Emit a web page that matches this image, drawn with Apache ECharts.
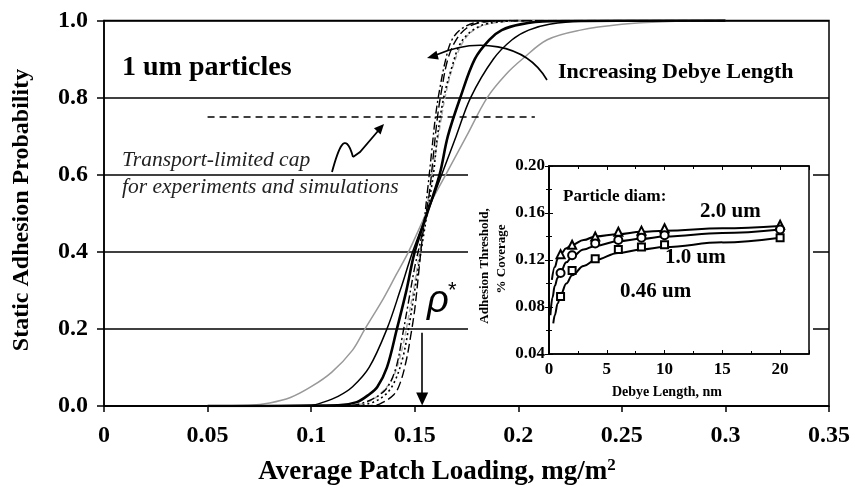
<!DOCTYPE html>
<html>
<head>
<meta charset="utf-8">
<script src="https://cdn.jsdelivr.net/npm/echarts@6/dist/echarts.min.js"></script>
<style>
html, body { margin: 0; padding: 0; background: #fff; }
#chart { width: 855px; height: 489px; }
</style>
</head>
<body>
<div id="chart"></div>
<script>
// Static adhesion probability vs. average patch loading, 1 um particles,
// one curve per Debye length (values as [loading mg/m2, probability]).
const graySolid = [[0.05,0],[0.07,0.002],[0.08,0.008],[0.09,0.022],[0.10,0.05],[0.11,0.088],[0.12,0.145],[0.126,0.2],[0.135,0.28],[0.141,0.34],[0.147,0.40],[0.153,0.47],[0.158,0.53],[0.165,0.60],[0.175,0.70],[0.185,0.80],[0.194,0.86],[0.202,0.90],[0.214,0.95],[0.23,0.975],[0.25,0.99],[0.27,0.997],[0.30,1.0]];
const blackThin = [[0.05,0],[0.10,0.002],[0.106,0.01],[0.113,0.025],[0.120,0.05],[0.128,0.10],[0.1366,0.2],[0.143,0.30],[0.149,0.40],[0.156,0.50],[0.163,0.60],[0.170,0.70],[0.177,0.80],[0.188,0.90],[0.197,0.95],[0.205,0.975],[0.215,0.99],[0.23,0.998],[0.30,1.0]];
const blackThick = [[0.05,0],[0.113,0.002],[0.122,0.01],[0.128,0.03],[0.132,0.05],[0.1366,0.10],[0.1414,0.2],[0.146,0.30],[0.150,0.40],[0.156,0.50],[0.162,0.60],[0.166,0.70],[0.172,0.80],[0.179,0.90],[0.186,0.95],[0.192,0.975],[0.201,0.99],[0.215,0.998],[0.30,1.0]];
const blackLongDash = [[0.05,0],[0.128,0.001],[0.133,0.005],[0.140,0.03],[0.143,0.06],[0.146,0.12],[0.148,0.18],[0.150,0.25],[0.152,0.35],[0.154,0.45],[0.157,0.55],[0.159,0.65],[0.161,0.75],[0.163,0.82],[0.166,0.90],[0.170,0.95],[0.175,0.98],[0.182,0.995],[0.20,1.0],[0.30,1.0]];
const blackDashDot = [[0.05,0],[0.118,0.001],[0.125,0.008],[0.132,0.025],[0.137,0.05],[0.141,0.10],[0.144,0.18],[0.147,0.27],[0.150,0.36],[0.154,0.46],[0.156,0.55],[0.158,0.65],[0.160,0.75],[0.162,0.82],[0.165,0.90],[0.168,0.95],[0.173,0.98],[0.180,0.995],[0.20,1.0]];
const blackDotted = [[0.05,0],[0.122,0.001],[0.130,0.01],[0.136,0.03],[0.140,0.06],[0.144,0.12],[0.147,0.20],[0.150,0.30],[0.153,0.40],[0.156,0.50],[0.159,0.60],[0.161,0.70],[0.164,0.80],[0.168,0.88],[0.172,0.94],[0.178,0.975],[0.186,0.993],[0.20,1.0]];
const grayDashed = [[0.05,0],[0.12,0.002],[0.128,0.012],[0.135,0.04],[0.140,0.08],[0.144,0.15],[0.147,0.23],[0.150,0.32],[0.153,0.42],[0.156,0.52],[0.159,0.62],[0.162,0.72],[0.165,0.81],[0.169,0.89],[0.174,0.95],[0.180,0.98],[0.19,0.995],[0.21,1.0]];

// Transport-limited cap and the rho* threshold marker
const capLevel = 0.75;
const capRange = [0.05, 0.208];
const rhoStar = 0.1536;

// Inset: adhesion threshold (% coverage) vs. Debye length (nm)
const debyeLength = [1, 2, 4, 6, 8, 10, 20];
const thr20um = [0.125, 0.133, 0.140, 0.144, 0.145, 0.147, 0.150];
const thr10um = [0.109, 0.124, 0.134, 0.137, 0.139, 0.141, 0.146];
const thr046um = [0.089, 0.111, 0.121, 0.129, 0.131, 0.133, 0.139];
const fit20um = [[0.25,0.103],[0.5,0.114],[0.75,0.121],[1,0.125],[1.5,0.130],[2,0.133],[3,0.137],[4,0.140],[6,0.142],[8,0.144],[10,0.145],[15,0.147],[20,0.149]];
const fit10um = [[0.12,0.073],[0.3,0.088],[0.5,0.098],[0.75,0.105],[1,0.110],[1.5,0.118],[2,0.123],[3,0.129],[4,0.132],[6,0.136],[8,0.138],[10,0.140],[15,0.143],[20,0.146]];
const fit046um = [[0.37,0.066],[0.5,0.073],[0.75,0.083],[1,0.090],[1.5,0.100],[2,0.107],[3,0.115],[4,0.120],[6,0.126],[8,0.129],[10,0.131],[15,0.135],[20,0.139]];

const SERIF = '"Liberation Serif", "Times New Roman", serif';
const chart = echarts.init(document.getElementById('chart'), null, { renderer: 'canvas' });

function curve(data, color, width, dash) {
  return {
    type: 'line', xAxisIndex: 0, yAxisIndex: 0, data: data,
    showSymbol: false, symbol: 'none', smooth: 0.35,
    lineStyle: { color: color, width: width, type: dash || 'solid' },
    silent: true, z: 2
  };
}
function fitLine(data) {
  return {
    type: 'line', xAxisIndex: 1, yAxisIndex: 1, data: data,
    showSymbol: false, symbol: 'none', smooth: 0.4, smoothMonotone: 'x',
    lineStyle: { color: '#000', width: 2 }, silent: true, z: 22
  };
}
function points(ys, symbol, size) {
  return {
    type: 'scatter', xAxisIndex: 1, yAxisIndex: 1,
    data: debyeLength.map((x, i) => [x, ys[i]]),
    symbol: symbol, symbolSize: size,
    itemStyle: { color: '#000', borderWidth: 1.3, opacity: 1 },
    silent: true, z: 23
  };
}

// arrowhead polygon with its tip at (x, y), pointing along (dx, dy)
function arrowHead(x, y, dx, dy, len, half) {
  const n = Math.hypot(dx, dy), ux = dx / n, uy = dy / n;
  const bx = x - ux * len, by = y - uy * len;
  return {
    type: 'polygon', z: 40, silent: true,
    shape: { points: [[x, y], [bx - uy * half, by + ux * half], [bx + uy * half, by - ux * half]] },
    style: { fill: '#000' }
  };
}

const boldLabel = (size) => ({ fontFamily: SERIF, fontWeight: 'bold', fontSize: size, color: '#000' });

const option = {
  backgroundColor: '#fff',
  animation: false,
  grid: [
    { left: 104, top: 20.5, right: 26, bottom: 83, show: true, borderColor: '#000', borderWidth: 1.5, backgroundColor: 'transparent', containLabel: false },
    { left: 549, top: 166, width: 260, height: 188, show: true, borderColor: '#000', borderWidth: 1.5, backgroundColor: '#fff', z: 21 }
  ],
  xAxis: [
    {
      gridIndex: 0, type: 'value', min: 0, max: 0.35, interval: 0.05,
      axisLine: { show: true, lineStyle: { color: '#000', width: 1.5 } },
      axisTick: { show: true, inside: false, length: 6, lineStyle: { color: '#000', width: 1.5 } },
      axisLabel: Object.assign(boldLabel(24), { margin: 18, formatter: v => String(+v.toFixed(2)) }),
      splitLine: { show: false }
    },
    {
      gridIndex: 1, type: 'value', min: 0, max: 22.5, interval: 5, z: 22,
      axisLine: { show: true, lineStyle: { color: '#000', width: 1.5 } },
      axisTick: { show: true, inside: true, length: 4, lineStyle: { color: '#000', width: 1 } },
      minorTick: { show: true, splitNumber: 2, length: 3, lineStyle: { color: '#000', width: 1 } },
      axisLabel: Object.assign(boldLabel(17), { margin: 7, formatter: v => (v % 5 === 0 ? String(v) : '') }),
      splitLine: { show: false }
    },
    {
      gridIndex: 1, type: 'value', position: 'top', min: 0, max: 22.5, interval: 5, z: 22,
      axisLine: { show: true, lineStyle: { color: '#000', width: 1.5 } },
      axisTick: { show: true, inside: true, length: 4, lineStyle: { color: '#000', width: 1 } },
      minorTick: { show: true, splitNumber: 2, length: 3, lineStyle: { color: '#000', width: 1 } },
      axisLabel: { show: false }, splitLine: { show: false }
    }
  ],
  yAxis: [
    {
      gridIndex: 0, type: 'value', min: 0, max: 1, interval: 0.2,
      axisLine: { show: true, lineStyle: { color: '#000', width: 1.5 } },
      axisTick: { show: true, inside: false, length: 7, lineStyle: { color: '#000', width: 1.5 } },
      axisLabel: Object.assign(boldLabel(24), { margin: 16, formatter: v => v.toFixed(1) }),
      splitLine: { show: true, lineStyle: { color: '#000', width: 1.5 } }
    },
    {
      gridIndex: 1, type: 'value', min: 0.04, max: 0.20, interval: 0.04, z: 22,
      axisLine: { show: true, lineStyle: { color: '#000', width: 1.5 } },
      axisTick: { show: true, inside: true, length: 4, lineStyle: { color: '#000', width: 1 } },
      minorTick: { show: true, splitNumber: 2, length: 3, lineStyle: { color: '#000', width: 1 } },
      axisLabel: Object.assign(boldLabel(17), { margin: 4, formatter: v => v.toFixed(2) }),
      splitLine: { show: false }
    },
    {
      gridIndex: 1, type: 'value', position: 'right', min: 0.04, max: 0.20, interval: 0.04, z: 22,
      axisLine: { show: true, lineStyle: { color: '#000', width: 1.5 } },
      axisTick: { show: true, inside: true, length: 4, lineStyle: { color: '#000', width: 1 } },
      minorTick: { show: true, splitNumber: 2, length: 3, lineStyle: { color: '#000', width: 1 } },
      axisLabel: { show: false }, splitLine: { show: false }
    }
  ],
  series: [
    curve(graySolid, '#999', 1.5),
    curve(grayDashed, '#aaa', 1.5, [5, 3]),
    curve(blackDotted, '#000', 1.6, [2, 3]),
    curve(blackDashDot, '#000', 1.4, [8, 3, 2, 3]),
    curve(blackLongDash, '#000', 1.4, [9, 4]),
    curve(blackThin, '#000', 1.5),
    curve(blackThick, '#000', 2.6),
    {
      type: 'line', xAxisIndex: 0, yAxisIndex: 0, data: [], silent: true,
      markLine: {
        silent: true, animation: false, symbol: ['none', 'none'], label: { show: false },
        lineStyle: { color: '#000', width: 1.5, type: [7, 5] },
        data: [[{ coord: [capRange[0], capLevel] }, { coord: [capRange[1], capLevel] }]]
      }
    },
    {
      type: 'line', xAxisIndex: 0, yAxisIndex: 0, data: [], silent: true,
      markLine: {
        silent: true, animation: false, symbol: ['none', 'triangle'], symbolSize: [12, 13], label: { show: false },
        lineStyle: { color: '#000', width: 1.6, type: 'solid' },
        data: [[{ coord: [rhoStar, 0.19] }, { coord: [rhoStar, 0.018] }]]
      }
    },
    fitLine(fit20um), fitLine(fit10um), fitLine(fit046um),
    points(thr20um, 'emptyTriangle', 8),
    points(thr10um, 'emptyCircle', 8),
    points(thr046um, 'emptyRect', 7)
  ],
  graphic: [
    // white panel behind the inset and its labels
    { type: 'rect', z: 5, silent: true, shape: { x: 468, y: 150, width: 345, height: 250 }, style: { fill: '#fff' } },
    // axis titles of the main chart
    {
      type: 'text', z: 30, silent: true, rotation: Math.PI / 2,
      x: 22, y: 210,
      style: { text: 'Static Adhesion Probability', font: 'bold 24px ' + SERIF, fill: '#000', textAlign: 'center', textVerticalAlign: 'middle' }
    },
    {
      type: 'text', z: 30, silent: true, x: 437, y: 472,
      style: {
        text: '{t|Average Patch Loading, mg/m}{s|2}', textAlign: 'center', textVerticalAlign: 'middle',
        rich: {
          t: { font: 'bold 27px ' + SERIF, fill: '#000' },
          s: { font: 'bold 17px ' + SERIF, fill: '#000', padding: [0, 0, 13, 0] }
        }
      }
    },
    // annotations on the main chart
    { type: 'text', z: 30, silent: true, x: 122, y: 68, style: { text: '1 um particles', font: 'bold 28px ' + SERIF, fill: '#000', textAlign: 'left', textVerticalAlign: 'middle' } },
    { type: 'text', z: 30, silent: true, x: 558, y: 72, style: { text: 'Increasing Debye Length', font: 'bold 22px ' + SERIF, fill: '#000', textAlign: 'left', textVerticalAlign: 'middle' } },
    { type: 'text', z: 30, silent: true, x: 122, y: 160, style: { text: 'Transport-limited cap', font: 'italic 21.5px ' + SERIF, fill: '#222', textAlign: 'left', textVerticalAlign: 'middle' } },
    { type: 'text', z: 30, silent: true, x: 122, y: 187, style: { text: 'for experiments and simulations', font: 'italic 21.5px ' + SERIF, fill: '#222', textAlign: 'left', textVerticalAlign: 'middle' } },
    { type: 'text', z: 30, silent: true, x: 427, y: 301, style: { text: 'ρ', font: 'italic 38px "Liberation Sans", sans-serif', fill: '#000', textAlign: 'left', textVerticalAlign: 'middle' } },
    { type: 'text', z: 30, silent: true, x: 448, y: 291, style: { text: '*', font: '22px "Liberation Sans", sans-serif', fill: '#000', textAlign: 'left', textVerticalAlign: 'middle' } },
    // curved arrow across the family of curves
    {
      type: 'bezierCurve', z: 30, silent: true,
      shape: { x1: 547, y1: 80, cpx1: 525, cpy1: 42, cpx2: 475, cpy2: 38, x2: 436, y2: 55 },
      style: { stroke: '#000', lineWidth: 1.6, fill: null }
    },
    arrowHead(427, 58, -52, 14, 11, 4.5),
    // squiggle arrow pointing at the cap line
    {
      type: 'bezierCurve', z: 30, silent: true,
      shape: { x1: 332, y1: 172, cpx1: 338, cpy1: 150, cpx2: 345, cpy2: 128, x2: 353, y2: 157 },
      style: { stroke: '#000', lineWidth: 1.8, fill: null }
    },
    {
      type: 'polyline', z: 30, silent: true,
      shape: { points: [[353, 157], [360, 152], [378, 131]] },
      style: { stroke: '#000', lineWidth: 1.8, fill: null }
    },
    arrowHead(384, 124, 1, -1.1, 10, 4.5),
    // inset titles and curve labels
    {
      type: 'text', z: 30, silent: true, rotation: Math.PI / 2, x: 485, y: 266,
      style: { text: 'Adhesion Threshold,', font: 'bold 13px ' + SERIF, fill: '#000', textAlign: 'center', textVerticalAlign: 'middle' }
    },
    {
      type: 'text', z: 30, silent: true, rotation: Math.PI / 2, x: 502, y: 259,
      style: { text: '% Coverage', font: 'bold 13px ' + SERIF, fill: '#000', textAlign: 'center', textVerticalAlign: 'middle' }
    },
    { type: 'text', z: 30, silent: true, x: 667, y: 392, style: { text: 'Debye Length, nm', font: 'bold 14px ' + SERIF, fill: '#000', textAlign: 'center', textVerticalAlign: 'middle' } },
    { type: 'text', z: 30, silent: true, x: 563, y: 197, style: { text: 'Particle diam:', font: 'bold 17px ' + SERIF, fill: '#000', textAlign: 'left', textVerticalAlign: 'middle' } },
    { type: 'text', z: 30, silent: true, x: 700, y: 212, style: { text: '2.0 um', font: 'bold 21px ' + SERIF, fill: '#000', textAlign: 'left', textVerticalAlign: 'middle' } },
    { type: 'text', z: 30, silent: true, x: 665, y: 258, style: { text: '1.0 um', font: 'bold 21px ' + SERIF, fill: '#000', textAlign: 'left', textVerticalAlign: 'middle' } },
    { type: 'text', z: 30, silent: true, x: 620, y: 292, style: { text: '0.46 um', font: 'bold 21px ' + SERIF, fill: '#000', textAlign: 'left', textVerticalAlign: 'middle' } }
  ]
};

chart.setOption(option);
</script>
</body>
</html>
